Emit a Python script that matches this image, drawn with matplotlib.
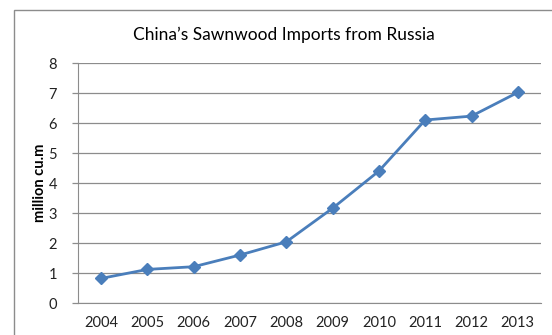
import matplotlib
matplotlib.use('Agg')
import matplotlib.pyplot as plt
from matplotlib.patches import Rectangle

# data
years = ['2004', '2005', '2006', '2007', '2008', '2009', '2010', '2011', '2012', '2013']
imports = [0.82, 1.12, 1.21, 1.60, 2.04, 3.16, 4.40, 6.10, 6.23, 7.02]
yticks = [0, 1, 2, 3, 4, 5, 6, 7, 8]

plt.rcParams['font.family'] = ['Lato', 'DejaVu Sans']

fig = plt.figure(figsize=(5.52, 3.35), dpi=100)
ax = fig.add_axes([0.1413, 0.0955, 0.8387, 0.7164])

# outer chart border (cut off on the right and bottom as in the source)
fig.patches.append(Rectangle((14 / 552, -0.1), 1.2, 1.1 - 9.5 / 335,
                             transform=fig.transFigure, fill=False,
                             edgecolor='#8c8c8c', linewidth=1.0))

x = range(len(years))
ax.plot(x, imports, color='#4a7ebb', linewidth=2.0, marker='D',
        markersize=6.5, markerfacecolor='#4a7ebb', markeredgecolor='#4a7ebb',
        zorder=3)

ax.set_xlim(-0.5, len(years) - 0.5)
ax.set_ylim(0, 8)
ax.set_yticks(yticks)
ax.set_xticks(list(x))
ax.set_xticklabels(years)
ax.yaxis.grid(True, color='#8c8c8c', linewidth=0.9)
ax.set_axisbelow(True)

for s in ['top', 'right']:
    ax.spines[s].set_visible(False)
ax.spines['left'].set_color('#8c8c8c')
ax.spines['bottom'].set_color('#8c8c8c')
ax.tick_params(axis='x', length=0, pad=9, labelsize=10.5, colors='#222222')
ax.tick_params(axis='y', length=4, width=0.9, color='#8c8c8c', pad=11,
               labelsize=10.5, colors='#222222')

ax.set_ylabel('million cu.m', fontsize=10.5, fontweight='bold', labelpad=1)
fig.text(0.514, 0.895, 'China\u2019s Sawnwood Imports from Russia',
         ha='center', va='center', fontsize=12.5, color='black')

plt.savefig('out.png', dpi=100)
